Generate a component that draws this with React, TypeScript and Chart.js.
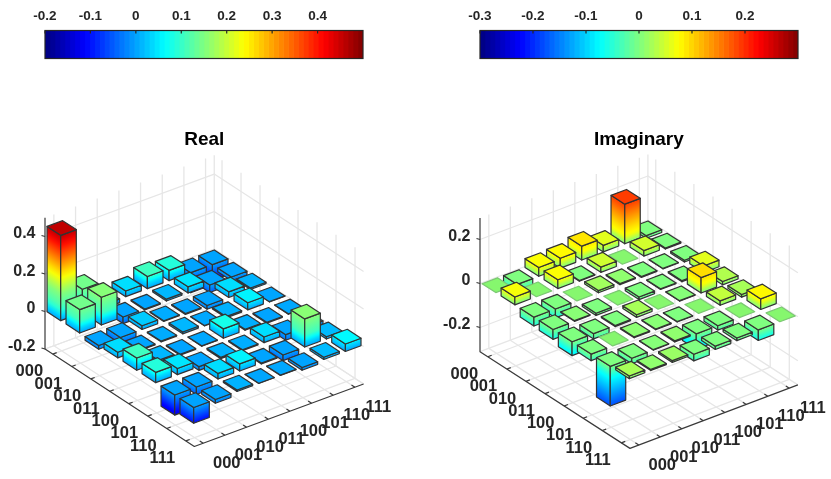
import { useEffect, useRef } from "react";
import { Chart, registerables } from "chart.js";

Chart.register(...registerables);

const FONT = '"Liberation Sans", Arial, sans-serif';
const INK = "#262626";

const basisLabels = ["000", "001", "010", "011", "100", "101", "110", "111"];

const realValues = [
  [0.455, 0.125, -0.02, 0.03, 0.065, 0.055, -0.107, -0.084],
  [0.125, 0.148, -0.035, -0.005, 0.01, 0.033, -0.04, -0.02],
  [-0.02, -0.035, 0.02, 0.004, -0.005, -0.02, 0.03, 0.008],
  [0.03, -0.005, 0.004, 0.01, 0.002, 0.007, 0.038, 0.001],
  [0.065, 0.01, -0.005, 0.002, 0.05, 0.005, -0.005, 0.002],
  [0.055, 0.033, -0.02, 0.007, 0.005, 0.03, -0.03, -0.015],
  [-0.107, -0.04, 0.03, 0.038, -0.005, -0.03, 0.15, 0.012],
  [-0.084, -0.02, 0.008, 0.001, 0.002, -0.015, 0.012, 0.04],
];

const imagValues = [
  [0, -0.036, 0.04, 0.045, 0.063, 0.03, 0.18, -0.012],
  [0.036, 0, 0.04, -0.003, 0.024, 0, 0.025, -0.005],
  [-0.04, -0.04, 0, 0.01, 0.005, -0.004, -0.002, -0.008],
  [-0.045, 0.003, -0.01, 0, -0.012, -0.003, -0.005, 0.03],
  [-0.063, -0.024, -0.005, 0.012, 0, 0.002, 0.07, 0.015],
  [-0.03, 0, 0.004, 0.003, -0.002, 0, 0.02, 0.012],
  [-0.18, -0.025, 0.002, 0.005, -0.07, -0.02, 0, 0.048],
  [0.012, 0.005, 0.008, -0.03, -0.015, -0.012, -0.048, 0],
];

const realZTicks = [-0.2, 0, 0.2, 0.4];
const imagZTicks = [-0.2, 0, 0.2];
const realBarTicks = [-0.2, -0.1, 0, 0.1, 0.2, 0.3, 0.4];
const imagBarTicks = [-0.3, -0.2, -0.1, 0, 0.1, 0.2];

const realColorIn = [-0.2, -0.084, 0, 0.03, 0.065, 0.148, 0.5];
const realColorOut = [-0.2, -0.105, 0, 0.04, 0.106, 0.155, 0.5];
const imagColorIn = [-0.3, -0.18, -0.05, 0, 0.036, 0.07, 0.18, 0.3];
const imagColorOut = [-0.3, -0.18, -0.07, 0, 0.07, 0.095, 0.19, 0.3];

const fmt = (v: number) => String(+v.toFixed(1));

// matlab jet
const jet = (t: number) => {
  const c = (v: number) => Math.round(255 * Math.max(0, Math.min(1, v)));
  const r = c(Math.min(4 * t - 1.5, -4 * t + 4.5));
  const g = c(Math.min(4 * t - 0.5, -4 * t + 3.5));
  const b = c(Math.min(4 * t + 0.5, -4 * t + 2.5));
  return `rgb(${r},${g},${b})`;
};

const lookup = (xs: number[], ys: number[], v: number) => {
  for (let k = 1; k < xs.length; k++) {
    if (v <= xs[k]) return ys[k - 1] + ((ys[k] - ys[k - 1]) * (v - xs[k - 1])) / (xs[k] - xs[k - 1]);
  }
  return ys[ys.length - 1];
};

const ColorBar = ({ left, width, padLeft, padRight, min, max, ticks }: any) => {
  const ref = useRef<HTMLCanvasElement>(null);

  useEffect(() => {
    if (!ref.current) return;
    const step = (max - min) / 64;
    const bands = Array.from({ length: 64 }, (_, k) => ({
      data: [[min + k * step, min + (k + 1) * step]],
      backgroundColor: jet((k + 0.5) / 64),
      borderWidth: 0,
      barPercentage: 1,
      categoryPercentage: 1,
      grouped: false,
    }));
    const chart = new Chart(ref.current, {
      type: "bar",
      data: { labels: ["c"], datasets: bands as any },
      options: {
        indexAxis: "y",
        animation: false,
        responsive: false,
        events: [],
        layout: { padding: { left: padLeft, right: padRight, top: 0, bottom: 11.5 } },
        plugins: { legend: { display: false }, tooltip: { enabled: false } },
        scales: {
          x: {
            type: "linear",
            position: "top",
            min,
            max,
            grid: { display: false, drawTicks: false },
            border: { display: false },
            afterBuildTicks: (s: any) => {
              s.ticks = ticks.map((value: number) => ({ value }));
            },
            afterFit: (s: any) => {
              s.height = 30.5;
            },
            ticks: {
              autoSkip: false,
              maxRotation: 0,
              padding: 6,
              color: INK,
              font: { family: FONT, size: 13.5, weight: "bold" },
              callback: (v: any) => fmt(+v),
            },
          },
          y: { display: false },
        },
      },
      plugins: [
        {
          id: "frame",
          afterDatasetsDraw(c: any) {
            const { ctx, chartArea: a, scales } = c;
            ctx.save();
            ctx.strokeStyle = INK;
            ctx.lineWidth = 1.2;
            ctx.strokeRect(a.left, a.top, a.right - a.left, a.bottom - a.top);
            ticks.forEach((t: number) => {
              const x = scales.x.getPixelForValue(t);
              ctx.beginPath();
              ctx.moveTo(x, a.top);
              ctx.lineTo(x, a.top + 3);
              ctx.stroke();
            });
            ctx.restore();
          },
        },
      ],
    } as any);
    return () => chart.destroy();
  }, []);

  return (
    <canvas
      ref={ref}
      width={width}
      height={70}
      style={{ position: "absolute", left, top: 0, display: "block" }}
    />
  );
};

const BAR_HALF = 0.36;
const CANVAS_TOP = 115;
const CANVAS_H = 364;

const Bars3D = ({ title, values, zTicks, colorIn, colorOut, view }: any) => {
  const ref = useRef<HTMLCanvasElement>(null);
  const { canvasLeft, canvasWidth, cornerX, cornerY, rowRun, rowDrop, colRun, colRise, zScale } = view;
  const { iLo, iHi, jLo, jHi, zLo, zHi, cMin, cMax } = view;

  useEffect(() => {
    if (!ref.current) return;

    const dataX = (i: number, j: number) => i * rowRun + j * colRun;
    const dataY = (i: number, j: number, z: number) => z + (j * colRise - i * rowDrop) / zScale;

    const plotLeft = cornerX - canvasLeft;
    const plotRight = plotLeft + (iHi - iLo) * rowRun + (jHi - jLo) * colRun;
    const plotTop = cornerY - (zHi - zLo) * zScale - (jHi - jLo) * colRise - CANVAS_TOP;
    const plotBottom = cornerY + (iHi - iLo) * rowDrop - CANVAS_TOP;

    const points: any[] = [];
    values.forEach((row: number[], i: number) =>
      row.forEach((v, j) => points.push({ x: dataX(i, j), y: dataY(i, j, v) }))
    );

    const colorAt = (z: number) => jet((lookup(colorIn, colorOut, z) - cMin) / (cMax - cMin));

    const barsPlugin = {
      id: "bars3d",
      beforeDatasetsDraw(c: any) {
        const { ctx, scales } = c;
        const p = (i: number, j: number, z: number) => ({
          x: scales.x.getPixelForValue(dataX(i, j)),
          y: scales.y.getPixelForValue(dataY(i, j, z)),
        });
        const line = (pts: any[]) => {
          ctx.beginPath();
          pts.forEach((q, k) => (k ? ctx.lineTo(q.x, q.y) : ctx.moveTo(q.x, q.y)));
          ctx.stroke();
        };
        const poly = (pts: any[]) => {
          ctx.beginPath();
          pts.forEach((q, k) => (k ? ctx.lineTo(q.x, q.y) : ctx.moveTo(q.x, q.y)));
          ctx.closePath();
        };

        ctx.save();
        ctx.lineJoin = "round";

        // floor and walls
        ctx.strokeStyle = "#e6e6e6";
        ctx.lineWidth = 1.3;
        basisLabels.forEach((_, k) => {
          line([p(k, jLo, zLo), p(k, jHi, zLo), p(k, jHi, zHi)]);
          line([p(iHi, k, zLo), p(iLo, k, zLo), p(iLo, k, zHi)]);
        });
        zTicks.forEach((t: number) => line([p(iLo, jLo, t), p(iLo, jHi, t), p(iHi, jHi, t)]));
        line([p(iLo, jLo, zLo), p(iLo, jHi, zLo), p(iHi, jHi, zLo)]);
        line([p(iLo, jHi, zLo), p(iLo, jHi, zHi)]);

        // axes
        ctx.strokeStyle = "#3a3a3a";
        ctx.lineWidth = 1.2;
        line([p(iLo, jLo, zHi), p(iLo, jLo, zLo), p(iHi, jLo, zLo), p(iHi, jHi, zLo)]);
        basisLabels.forEach((_, k) => {
          line([p(k, jLo, zLo), p(k, jLo + 0.18, zLo)]);
          line([p(iHi, k, zLo), p(iHi - 0.18, k, zLo)]);
        });

        // bars, back to front
        ctx.lineWidth = 1.2;
        for (let i = 0; i < values.length; i++) {
          for (let j = values[i].length - 1; j >= 0; j--) {
            const v = values[i][j];
            const lo = Math.min(0, v);
            const hi = Math.max(0, v);
            const h = BAR_HALF;
            const top = [p(i - h, j - h, hi), p(i + h, j - h, hi), p(i + h, j + h, hi), p(i - h, j + h, hi)];
            if (v === 0) {
              poly(top);
              ctx.fillStyle = "#86f76e";
              ctx.fill();
              ctx.strokeStyle = "#7cc873";
              ctx.stroke();
              continue;
            }
            const faces = [
              [[i - h, j - h], [i + h, j - h]],
              [[i + h, j - h], [i + h, j + h]],
            ];
            faces.forEach(([a, b]) => {
              const a1 = p(a[0], a[1], hi);
              const b1 = p(b[0], b[1], hi);
              const b0 = p(b[0], b[1], lo);
              const a0 = p(a[0], a[1], lo);
              const ex = b1.x - a1.x;
              const ey = b1.y - a1.y;
              const len = Math.hypot(ex, ey);
              const nx = -ey / len;
              const ny = ex / len;
              const dot = (a0.x - a1.x) * nx + (a0.y - a1.y) * ny;
              const g = ctx.createLinearGradient(a1.x, a1.y, a1.x + nx * dot, a1.y + ny * dot);
              const n = 16;
              for (let k = 0; k <= n; k++) {
                g.addColorStop(k / n, colorAt(hi + ((lo - hi) * k) / n));
              }
              poly([a1, b1, b0, a0]);
              ctx.fillStyle = g;
              ctx.fill();
              ctx.strokeStyle = "#333";
              ctx.stroke();
            });
            poly(top);
            ctx.fillStyle = colorAt(hi);
            ctx.fill();
            ctx.strokeStyle = "#333";
            ctx.stroke();
          }
        }

        // tick labels
        ctx.fillStyle = INK;
        ctx.font = `bold 16px ${FONT}`;
        ctx.textBaseline = "middle";
        ctx.textAlign = "right";
        zTicks.forEach((t: number) => {
          const q = p(iLo, jLo, t);
          ctx.strokeStyle = "#3a3a3a";
          line([q, { x: q.x - 3.5, y: q.y - 1 }]);
          ctx.fillText(fmt(t), q.x - 9.5, q.y - 2.5);
        });
        ctx.textAlign = "center";
        ctx.font = `bold 16.5px ${FONT}`;
        basisLabels.forEach((label, k) => {
          const l = p(k, jLo, zLo);
          ctx.fillText(label, l.x - 23.5, l.y + 17.7);
          const r = p(iHi, k, zLo);
          ctx.fillText(label, r.x + 23.5, r.y + 20.1);
        });
        ctx.restore();
      },
    };

    const titleTop = 13.6;
    const titleHeight = 19 * 1.2;

    const chart = new Chart(ref.current, {
      type: "scatter",
      data: { datasets: [{ data: points, pointRadius: 0 }] },
      options: {
        animation: false,
        responsive: false,
        events: [],
        layout: {
          padding: { left: plotLeft, right: canvasWidth - plotRight, top: 0, bottom: CANVAS_H - plotBottom },
        },
        plugins: {
          legend: { display: false },
          tooltip: { enabled: false },
          title: {
            display: true,
            text: title,
            color: "#000",
            font: { family: FONT, size: 19, weight: "bold" },
            padding: { top: titleTop, bottom: plotTop - titleTop - titleHeight },
          },
        },
        scales: {
          x: { type: "linear", display: false, min: dataX(iLo, jLo), max: dataX(iHi, jHi) },
          y: { type: "linear", display: false, min: dataY(iHi, jLo, zLo), max: dataY(iLo, jHi, zHi) },
        },
      },
      plugins: [barsPlugin],
    } as any);
    return () => chart.destroy();
  }, []);

  return (
    <canvas
      ref={ref}
      width={canvasWidth}
      height={CANVAS_H}
      style={{ position: "absolute", left: canvasLeft, top: CANVAS_TOP, display: "block" }}
    />
  );
};

const realView = {
  canvasLeft: 0, canvasWidth: 415, cornerX: 45, cornerY: 349,
  rowRun: 19, rowDrop: 12.4, colRun: 21.67, colRise: 8, zScale: 187.5,
  iLo: -0.41, iHi: 7.45, jLo: -0.41, jHi: 7.4, zLo: -0.2, zHi: 0.5, cMin: -0.2, cMax: 0.5,
};

const imagView = {
  canvasLeft: 415, canvasWidth: 416, cornerX: 480, cornerY: 351.7,
  rowRun: 19.08, rowDrop: 12.3, colRun: 21.5, colRise: 8.13, zScale: 220,
  iLo: -0.41, iHi: 7.45, jLo: -0.41, jHi: 7.4, zLo: -0.31, zHi: 0.298, cMin: -0.3, cMax: 0.3,
};

export default function App() {
  return (
    <div style={{ position: "absolute", left: 0, top: 0, width: 831, height: 479, background: "#fff" }}>
      <ColorBar left={0} width={415} padLeft={45} padRight={52} min={-0.2} max={0.5} ticks={realBarTicks} />
      <ColorBar left={415} width={416} padLeft={65} padRight={33} min={-0.3} max={0.3} ticks={imagBarTicks} />
      <Bars3D title="Real" values={realValues} zTicks={realZTicks} colorIn={realColorIn} colorOut={realColorOut} view={realView} />
      <Bars3D title="Imaginary" values={imagValues} zTicks={imagZTicks} colorIn={imagColorIn} colorOut={imagColorOut} view={imagView} />
    </div>
  );
}
